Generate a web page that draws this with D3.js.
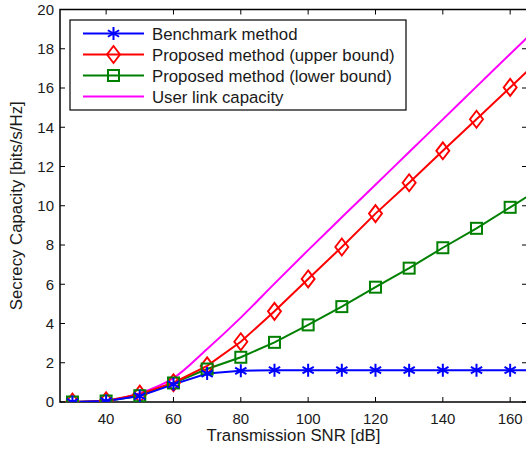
<!DOCTYPE html>
<html><head><meta charset="utf-8">
<script src="https://cdn.jsdelivr.net/npm/d3@7"></script>
<style>body{margin:0;background:#fff}svg{display:block}text{font-family:"Liberation Sans",Arial,sans-serif;fill:#1a1a1a}</style>
</head><body>
<svg id="c" width="526" height="453"></svg>
<script>
const snr = [30,40,50,60,70,80,90,100,110,120,130,140,150,160,170];
const benchmark = [0,0.05,0.3,0.9,1.45,1.59,1.62,1.62,1.62,1.62,1.62,1.62,1.62,1.62,1.62];
const upperBound = [0,0.06,0.4,0.98,1.84,3.07,4.62,6.27,7.9,9.6,11.17,12.8,14.41,16.03,17.65];
const lowerBound = [0,0.05,0.32,0.97,1.68,2.28,3.04,3.93,4.86,5.85,6.82,7.86,8.85,9.92,11.0];
const userLink = [0,0.05,0.45,1.22,2.7,4.3,6.03,7.74,9.41,11.07,12.74,14.4,16.07,17.73,19.4];
const xTicks = [40,60,80,100,120,140,160];
const yTicks = [0,2,4,6,8,10,12,14,16,18,20];
const legendLabels = ["Benchmark method","Proposed method (upper bound)","Proposed method (lower bound)","User link capacity"];

const svg = d3.select("#c");
const L=60, R=527, T=9.5, B=402;
const x = d3.scaleLinear().domain([26.3,165]).range([L,R]);
const y = d3.scaleLinear().domain([0,20]).range([B,T]);
const FT = 15, FL = 16.8;

svg.append("defs").append("clipPath").attr("id","clip")
  .append("rect").attr("x",L).attr("y",T).attr("width",R-L).attr("height",B-T);

svg.append("rect").attr("x",L).attr("y",T).attr("width",R-L).attr("height",B-T)
  .attr("fill","none").attr("stroke","#000").attr("stroke-width",1.5);

const tl=5;
xTicks.forEach(v=>{
  svg.append("line").attr("x1",x(v)).attr("x2",x(v)).attr("y1",B).attr("y2",B-tl).attr("stroke","#000");
  svg.append("line").attr("x1",x(v)).attr("x2",x(v)).attr("y1",T).attr("y2",T+tl).attr("stroke","#000");
  svg.append("text").attr("x",x(v)).attr("y",B+22).attr("text-anchor","middle").attr("font-size",FT).text(v);
});
yTicks.forEach(v=>{
  svg.append("line").attr("x1",L).attr("x2",L+tl).attr("y1",y(v)).attr("y2",y(v)).attr("stroke","#000");
  svg.append("line").attr("x1",R).attr("x2",R-tl).attr("y1",y(v)).attr("y2",y(v)).attr("stroke","#000");
  svg.append("text").attr("x",L-6).attr("y",y(v)+5.4).attr("text-anchor","end").attr("font-size",FT).text(v);
});

svg.append("text").attr("x",(L+R)/2).attr("y",441).attr("text-anchor","middle").attr("font-size",FL).text("Transmission SNR [dB]");
svg.append("text").attr("transform",`translate(22,${(T+B)/2}) rotate(-90)`).attr("text-anchor","middle").attr("font-size",FL).text("Secrecy Capacity [bits/s/Hz]");

const g = svg.append("g").attr("clip-path","url(#clip)");
const lineLin = d3.line().x((d,i)=>x(snr[i])).y(d=>y(d));
const lineSmooth = d3.line().x((d,i)=>x(snr[i])).y(d=>y(d)).curve(d3.curveCatmullRom.alpha(0.5));

function star(sel,cx,cy,c){
  const r=6.5, a=r*Math.cos(Math.PI/6), b=r*0.5;
  const p=`M${cx},${cy-r}L${cx},${cy+r}M${cx-a},${cy-b}L${cx+a},${cy+b}M${cx-a},${cy+b}L${cx+a},${cy-b}`;
  sel.append("path").attr("d",p).attr("stroke",c).attr("stroke-width",2).attr("fill","none");
}
function diamond(sel,cx,cy,c){
  sel.append("path").attr("d",`M${cx},${cy-8.5}L${cx+6.5},${cy}L${cx},${cy+8.5}L${cx-6.5},${cy}Z`)
    .attr("stroke",c).attr("stroke-width",1.9).attr("fill","none");
}
function square(sel,cx,cy,c){
  sel.append("rect").attr("x",cx-5.5).attr("y",cy-5.5).attr("width",11).attr("height",11)
    .attr("stroke",c).attr("stroke-width",2).attr("fill","none");
}

g.append("path").attr("d",lineSmooth(userLink)).attr("fill","none").attr("stroke","#ff00ff").attr("stroke-width",2);
const series = [
  {d:lowerBound,c:"#008000",m:square},
  {d:upperBound,c:"#ff0000",m:diamond},
  {d:benchmark,c:"#0000ff",m:star}
];
series.forEach(s=>{
  g.append("path").attr("d",lineLin(s.d)).attr("fill","none").attr("stroke",s.c).attr("stroke-width",2);
});
[series[1],series[0],series[2]].forEach(s=>{
  s.d.forEach((v,i)=>{ if(snr[i]<=160) s.m(g,x(snr[i]),y(v),s.c); });
});

const lg = svg.append("g");
lg.append("rect").attr("x",70).attr("y",20).attr("width",336).attr("height",90).attr("fill","#fff").attr("stroke","#000").attr("stroke-width",1.2);
const legendStyles = [{c:"#0000ff",m:star},{c:"#ff0000",m:diamond},{c:"#008000",m:square},{c:"#ff00ff",m:null}];
legendLabels.forEach((t,i)=>{
  const yy = 33.5 + i*21;
  lg.append("line").attr("x1",83).attr("x2",144).attr("y1",yy).attr("y2",yy).attr("stroke",legendStyles[i].c).attr("stroke-width",2);
  if(legendStyles[i].m) legendStyles[i].m(lg,113.5,yy,legendStyles[i].c);
  lg.append("text").attr("x",152).attr("y",yy+6).attr("font-size",FL).text(t);
});
</script>
</body></html>
